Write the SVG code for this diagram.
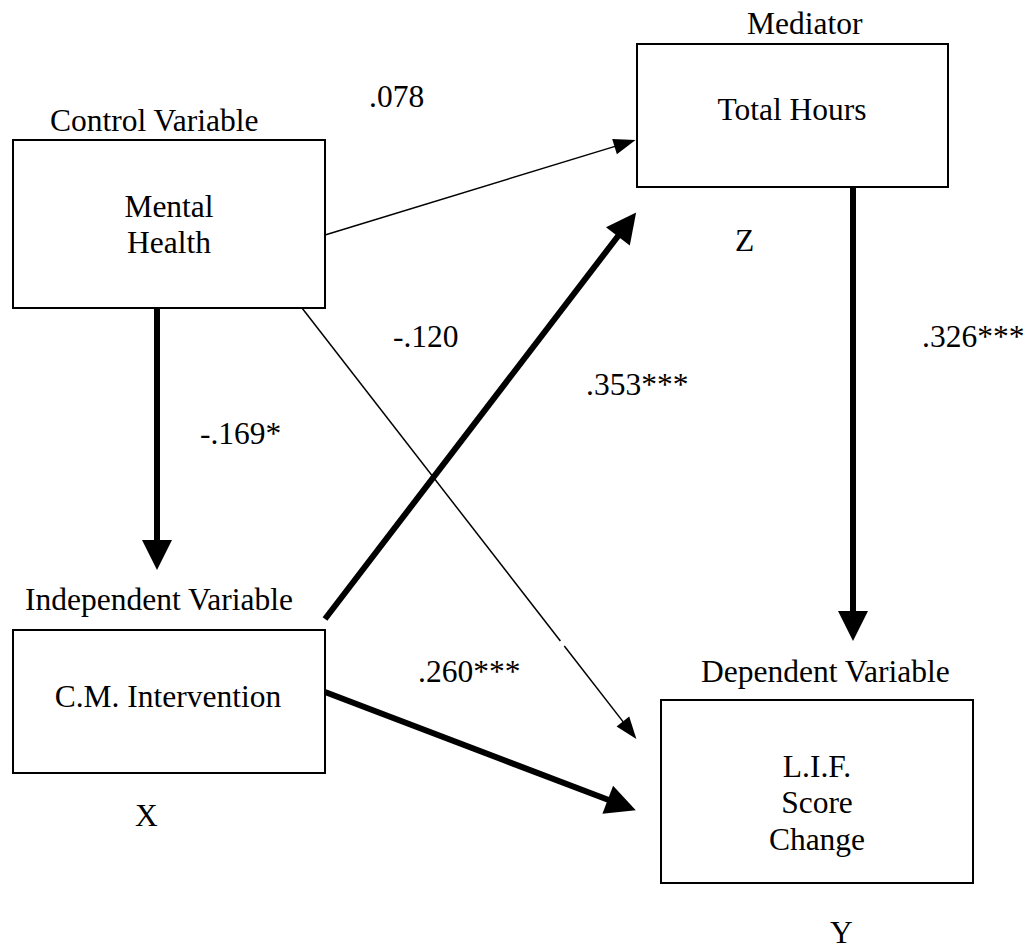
<svg xmlns="http://www.w3.org/2000/svg" width="1029" height="950" viewBox="0 0 1029 950">
  <style>
    text { font-family: "Liberation Serif", "Times New Roman", serif; font-size: 31.5px; fill: #000; }
    .mid { text-anchor: middle; }
    .box { fill: #fff; stroke: #000; stroke-width: 2; }
    .thin { stroke: #000; stroke-width: 1.5; fill: none; }
    .thick { stroke: #000; stroke-width: 6; fill: none; }
  </style>
  <defs>
    <marker id="headThick" markerUnits="userSpaceOnUse" markerWidth="32" markerHeight="32" viewBox="-1 -16 32 32" refX="1" refY="0" orient="auto">
      <path d="M0,-15 L30,0 L0,15 Z" fill="#000"/>
    </marker>
    <marker id="headThin" markerUnits="userSpaceOnUse" markerWidth="24" markerHeight="18" viewBox="-1 -9 24 18" refX="0.5" refY="0" orient="auto">
      <path d="M0,-8 L22,0 L0,8 Z" fill="#000"/>
    </marker>
  </defs>

  <rect width="1029" height="950" fill="#fff"/>

  <!-- paths between the variables -->
  <g id="connectors">
    <!-- Mental Health -> Total Hours (.078) -->
    <line class="thin" x1="325" y1="235" x2="615" y2="146.4" marker-end="url(#headThin)"/>
    <!-- Mental Health -> L.I.F. Score Change (-.120), with a small break -->
    <line class="thin" x1="302" y1="308" x2="560.4" y2="641"/>
    <line class="thin" x1="564.3" y1="646" x2="623.2" y2="721.9" marker-end="url(#headThin)"/>
    <!-- Mental Health -> C.M. Intervention (-.169*) -->
    <line class="thick" x1="157" y1="308" x2="157" y2="541" marker-end="url(#headThick)"/>
    <!-- C.M. Intervention -> Total Hours (.353***) -->
    <line class="thick" x1="325" y1="619" x2="618.5" y2="235.5" marker-end="url(#headThick)"/>
    <!-- C.M. Intervention -> L.I.F. Score Change (.260***) -->
    <line class="thick" x1="325" y1="692" x2="608.7" y2="800" marker-end="url(#headThick)"/>
    <!-- Total Hours -> L.I.F. Score Change (.326***) -->
    <line class="thick" x1="853" y1="187" x2="853" y2="612" marker-end="url(#headThick)"/>

    <text x="369" y="107">.078</text>
    <text x="393" y="347">-.120</text>
    <text x="200" y="444">-.169*</text>
    <text x="586" y="395">.353***</text>
    <text x="418" y="682">.260***</text>
    <text x="922" y="347">.326***</text>
  </g>

  <g id="control">
    <text x="50" y="131">Control Variable</text>
    <rect class="box" x="13" y="140" width="312" height="168"/>
    <text class="mid" x="169" y="217">Mental</text>
    <text class="mid" x="169" y="253">Health</text>
  </g>

  <g id="mediator">
    <text x="747" y="34">Mediator</text>
    <rect class="box" x="637" y="44" width="311" height="143"/>
    <text class="mid" x="792" y="120">Total Hours</text>
    <text x="735" y="251">Z</text>
  </g>

  <g id="independent">
    <text x="25" y="610">Independent Variable</text>
    <rect class="box" x="13" y="630" width="312" height="143"/>
    <text class="mid" x="168" y="707">C.M. Intervention</text>
    <text x="135" y="826">X</text>
  </g>

  <g id="dependent">
    <text x="701" y="682">Dependent Variable</text>
    <rect class="box" x="661" y="700" width="312" height="183"/>
    <text class="mid" x="817" y="777">L.I.F.</text>
    <text class="mid" x="817" y="813">Score</text>
    <text class="mid" x="817" y="850">Change</text>
    <text x="830" y="943">Y</text>
  </g>
</svg>
